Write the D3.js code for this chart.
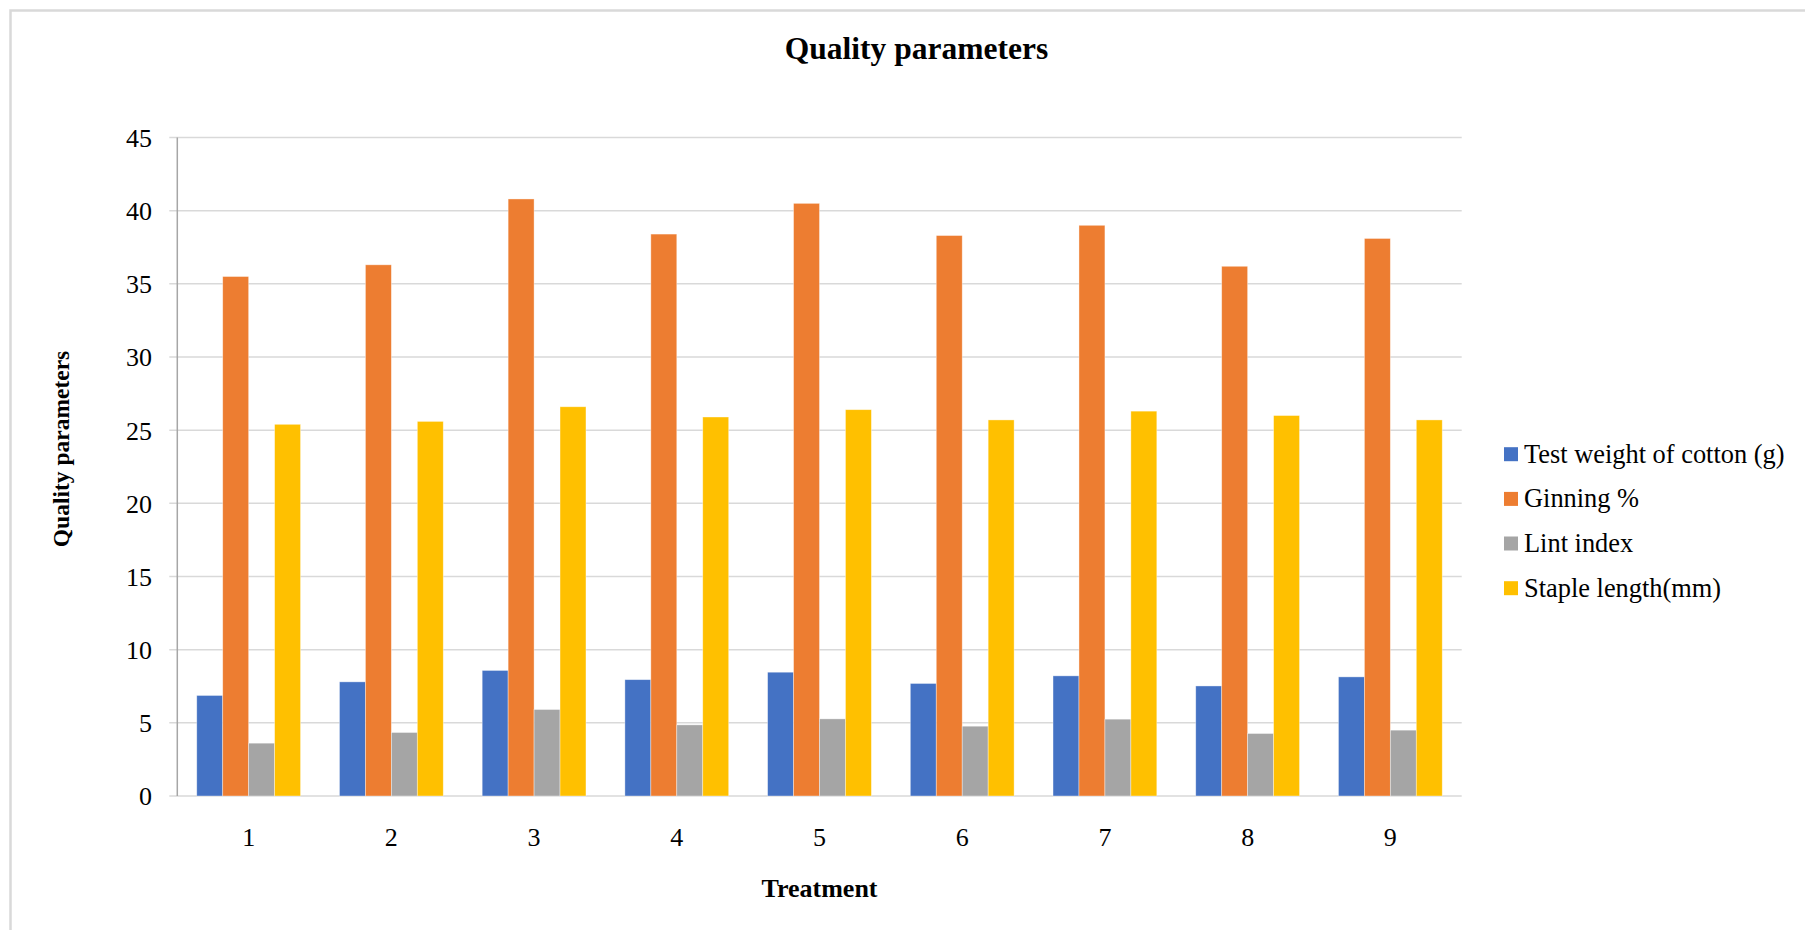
<!DOCTYPE html>
<html>
<head>
<meta charset="utf-8">
<script src="https://cdn.jsdelivr.net/npm/d3@7"></script>
<style>
  html, body { margin: 0; padding: 0; background: #fff; }
  svg { display: block; }
  text { font-family: "Liberation Serif", "Times New Roman", serif; fill: #000; }
</style>
</head>
<body>
<svg id="chart" width="1805" height="930"></svg>
<script>
const categories = ["1", "2", "3", "4", "5", "6", "7", "8", "9"];
const seriesNames = ["Test weight of cotton (g)", "Ginning %", "Lint index", "Staple length(mm)"];
const testWeight = [6.87, 7.8, 8.58, 7.95, 8.46, 7.69, 8.21, 7.52, 8.14];
const ginning = [35.5, 36.3, 40.8, 38.4, 40.5, 38.3, 39.0, 36.2, 38.1];
const lintIndex = [3.61, 4.34, 5.91, 4.86, 5.27, 4.77, 5.25, 4.27, 4.5];
const stapleLength = [25.4, 25.6, 26.6, 25.9, 26.4, 25.7, 26.3, 26.0, 25.7];
const yTicks = [0, 5, 10, 15, 20, 25, 30, 35, 40, 45];
const colors = ["#4472C4", "#ED7D31", "#A5A5A5", "#FFC000"];

const seriesValues = [testWeight, ginning, lintIndex, stapleLength];

const svg = d3.select("#chart");
const plot = { left: 177.3, right: 1461.7, top: 137.5, bottom: 796 };

// outer border
svg.append("rect")
  .attr("x", 10.5).attr("y", 10.5)
  .attr("width", 1805).attr("height", 930)
  .attr("fill", "none").attr("stroke", "#d9d9d9").attr("stroke-width", 2.5);

const x0 = d3.scaleBand()
  .domain(categories)
  .range([plot.left, plot.right])
  .paddingInner(0.2727)
  .paddingOuter(0.2727 / 2);

const x1 = d3.scaleBand()
  .domain(d3.range(seriesNames.length))
  .range([0, x0.bandwidth()]);

const y = d3.scaleLinear().domain([0, 45]).range([plot.bottom, plot.top]);

// gridlines
svg.append("g")
  .selectAll("line")
  .data(yTicks)
  .join("line")
  .attr("x1", plot.left - 8)
  .attr("x2", plot.right)
  .attr("y1", d => y(d))
  .attr("y2", d => y(d))
  .attr("stroke", "#d9d9d9")
  .attr("stroke-width", 1.5);

// vertical axis line
svg.append("line")
  .attr("x1", plot.left).attr("x2", plot.left)
  .attr("y1", plot.top).attr("y2", plot.bottom)
  .attr("stroke", "#a6a6a6").attr("stroke-width", 1.5);

// bars
const groups = svg.append("g")
  .selectAll("g")
  .data(categories)
  .join("g")
  .attr("transform", d => `translate(${x0(d)},0)`);

groups.selectAll("rect")
  .data((d, i) => seriesValues.map((vals, s) => ({ s, v: vals[i] })))
  .join("rect")
  .attr("x", d => x1(d.s))
  .attr("width", x1.bandwidth())
  .attr("y", d => y(d.v))
  .attr("height", d => y(0) - y(d.v))
  .attr("fill", d => colors[d.s])
  .attr("stroke", "#ffffff")
  .attr("stroke-opacity", 0.5)
  .attr("stroke-width", 0.75);

// y axis tick labels
const yAxis = d3.axisLeft(y).tickValues(yTicks).tickSize(0).tickPadding(0);
const yg = svg.append("g")
  .attr("transform", `translate(152,0)`)
  .call(yAxis);
yg.select(".domain").remove();
yg.selectAll("text")
  .attr("font-family", "Liberation Serif, Times New Roman, serif")
  .attr("font-size", 26)
  .attr("fill", "#000")
  .attr("dy", "0.34em");

// x axis tick labels
const xAxis = d3.axisBottom(x0).tickSize(0).tickPadding(0);
const xg = svg.append("g")
  .attr("transform", `translate(0,${plot.bottom})`)
  .call(xAxis);
xg.select(".domain").remove();
xg.selectAll("text")
  .attr("font-family", "Liberation Serif, Times New Roman, serif")
  .attr("font-size", 26)
  .attr("fill", "#000")
  .attr("dy", null)
  .attr("y", 50);

// title
svg.append("text")
  .attr("x", 916.5).attr("y", 59)
  .attr("text-anchor", "middle")
  .attr("font-size", 31.5)
  .attr("font-weight", "bold")
  .text("Quality parameters");

// x axis title
svg.append("text")
  .attr("x", (plot.left + plot.right) / 2).attr("y", 896.5)
  .attr("text-anchor", "middle")
  .attr("font-size", 26)
  .attr("font-weight", "bold")
  .text("Treatment");

// y axis title
svg.append("text")
  .attr("transform", "translate(69,449) rotate(-90)")
  .attr("text-anchor", "middle")
  .attr("font-size", 23.5)
  .attr("font-weight", "bold")
  .text("Quality parameters");

// legend
const legendBaselines = [462.7, 507.4, 552, 596.7];
const legend = svg.append("g")
  .selectAll("g")
  .data(seriesNames)
  .join("g");
legend.append("rect")
  .attr("x", 1504)
  .attr("y", (d, i) => legendBaselines[i] - 15.5)
  .attr("width", 14)
  .attr("height", 14)
  .attr("fill", (d, i) => colors[i]);
legend.append("text")
  .attr("x", 1524)
  .attr("y", (d, i) => legendBaselines[i])
  .attr("font-size", 26.4)
  .text(d => d);
</script>
</body>
</html>
